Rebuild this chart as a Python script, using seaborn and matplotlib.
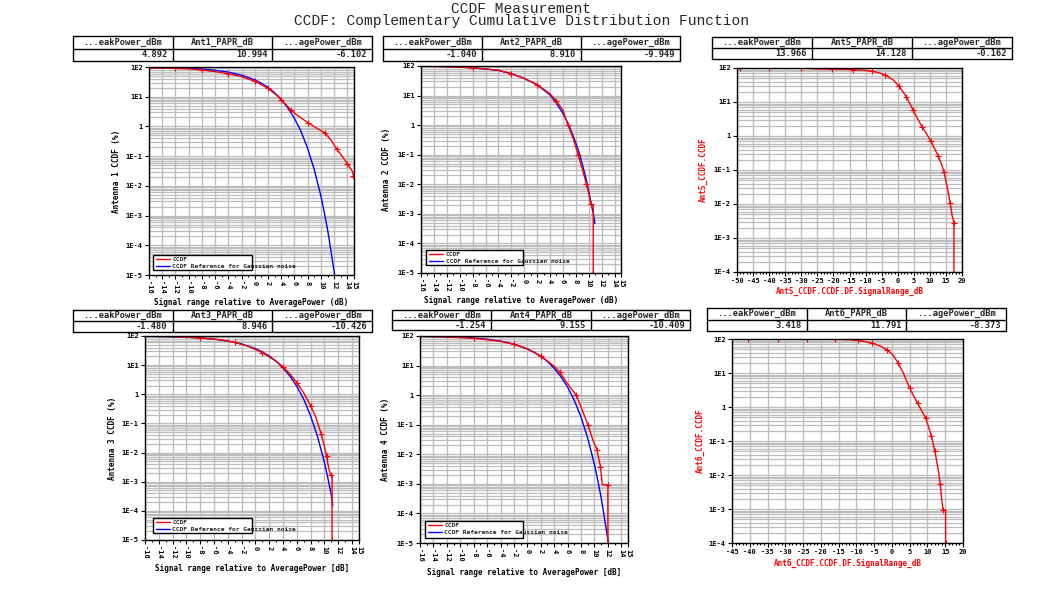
import numpy as np
import pandas as pd
import matplotlib
matplotlib.use("Agg")
import matplotlib.pyplot as plt
import seaborn as sns
from matplotlib.patches import Rectangle
from matplotlib.lines import Line2D
from matplotlib.ticker import MultipleLocator, LogLocator, NullFormatter

# ---------------- data ----------------
title1 = "CCDF Measurement"
title2 = "CCDF: Complementary Cumulative Distribution Function"
xlabel_rel_top = "Signal range relative to AveragePower (dB)"
xlabel_rel_bot = "Signal range relative to AveragePower [dB]"
legend_labels = ["CCDF", "CCDF Reference for Gaussian noise"]

table_headers = {
    1: ["...eakPower_dBm", "Ant1_PAPR_dB", "...agePower_dBm"],
    2: ["...eakPower_dBm", "Ant2_PAPR_dB", "...agePower_dBm"],
    5: ["...eakPower_dBm", "Ant5_PAPR_dB", "...agePower_dBm"],
    3: ["...eakPower_dBm", "Ant3_PAPR_dB", "...agePower_dBm"],
    4: ["...eakPower_dBm", "Ant4_PAPR_dB", "...agePower_dBm"],
    6: ["...eakPower_dBm", "Ant6_PAPR_dB", "...agePower_dBm"],
}
table_values = {
    1: ["4.892", "10.994", "-6.102"],
    2: ["-1.040", "8.910", "-9.949"],
    5: ["13.966", "14.128", "-0.162"],
    3: ["-1.480", "8.946", "-10.426"],
    4: ["-1.254", "9.155", "-10.409"],
    6: ["3.418", "11.791", "-8.373"],
}

# Antenna 1
a1_red_x = [-16, -14, -12, -10, -8, -6, -4, -2, 0, 1, 2, 3, 4, 5, 5.5, 6.5, 8, 9.4, 10.6, 11.6, 12.4, 13.2, 14, 14.8, 14.9]
a1_red_y = [93, 92, 90, 86, 79, 70, 59, 47, 33, 25.5, 19, 12.8, 8.0, 4.6, 3.5, 2.3, 1.35, 0.87, 0.6, 0.33, 0.17, 0.1, 0.055, 0.03, 0.022]
a1_blue_x = [-16, -14, -12, -10, -8, -6, -4, -2, 0, 1, 2, 3, 4, 5, 6, 7, 8, 9, 10, 10.5, 11, 11.5, 12, 12.07]
a1_blue_y = [97.5, 96.1, 93.9, 90.5, 85.3, 77.8, 67.3, 53.3, 36.8, 28.4, 20.6, 13.6, 8.1, 4.2, 1.87, 0.67, 0.18,
             0.035, 0.0045, 0.0013, 0.00034, 0.000068, 0.000013, 0.00001]

# Antenna 2
a2_red_x = [-16, -12, -8, -4, -2, 0, 2, 4, 5, 6, 6.8, 7.6, 8.35, 9.0, 9.65, 10.0, 10.3, 10.7, 10.7]
a2_red_y = [99, 95, 87, 72, 55, 38, 23.5, 11.5, 6.5, 3.2, 1.0, 0.35, 0.1, 0.033, 0.01, 0.005, 0.0021, 0.0019, 0.00001]
a2_blue_x = [-16, -12, -8, -4, -2, 0, 2, 4, 5, 6, 7, 8, 8.5, 9.1, 9.6, 10.06, 10.4, 10.7, 10.95]
a2_blue_y = [99.5, 96, 87, 71, 55, 38, 23, 10.5, 5.5, 2.5, 0.9, 0.25, 0.12, 0.04, 0.015, 0.005, 0.002, 0.00107, 0.00047]

# Antenna 3
a3_red_x = [-16, -12, -8, -5, -3, -1, 1, 3, 4, 5, 6, 7, 8, 8.8, 9.5, 10.0, 10.3, 10.6, 10.9, 11.1, 11.1]
a3_red_y = [99, 95, 86, 74, 60, 44, 27, 13.5, 8.6, 5.0, 2.5, 1.1, 0.4, 0.15, 0.045, 0.016, 0.0075, 0.003, 0.0017, 0.0017, 0.00001]
a3_blue_x = [-16, -14, -12, -10, -8, -6, -4, -2, 0, 1, 2, 3, 4, 5, 6, 7, 8, 9, 10, 10.5, 11, 11.2]
a3_blue_y = [97.5, 96.1, 93.9, 90.5, 85.3, 77.8, 67.3, 53.3, 36.8, 28.4, 20.6, 13.6, 8.1, 4.2, 1.87, 0.67, 0.18,
             0.035, 0.0045, 0.0013, 0.00034, 0.00015]

# Antenna 4
a4_red_x = [-16, -12, -8, -4, -2, 0, 2, 3.8, 4.8, 6.4, 7.3, 8.2, 9.03, 9.77, 10.4, 10.5, 10.9, 11.17, 12.0, 12.0]
a4_red_y = [98, 92, 84, 66, 52, 36.5, 21, 10.3, 6.1, 1.8, 1.0, 0.3, 0.1, 0.03, 0.014, 0.01, 0.0038, 0.00093, 0.00093, 0.00001]
a4_blue_x = a1_blue_x
a4_blue_y = a1_blue_y

# Antenna 5 (signal range, dB)
a5_x = [-49, -44.5, -40, -35, -30, -25.2, -20.5, -16, -13.8, -10.7, -8, -6.0, -4, -1.4, 0.4, 1.5, 2.7, 3.8, 4.8,
        6.2, 7.6, 9, 10.3, 11.5, 12.6, 13.6, 14.4, 15.4, 16.3, 16.9, 17.5, 17.5]
a5_y = [100, 100, 100, 100, 100, 94, 93, 91, 89, 86, 80, 73, 63, 45, 29, 21, 14, 9.0, 5.7,
        3.2, 1.85, 1.15, 0.71, 0.42, 0.26, 0.15, 0.088, 0.032, 0.011, 0.0047, 0.0028, 0.0001]

# Antenna 6 (signal range, dB)
a6_x = [-40.5, -36.5, -32, -28, -24, -20, -16, -12, -9.5, -7.8, -5.5, -3.1, -1.3, 0.2, 1.7, 3.2, 5.0, 6.0, 7.2,
        8.3, 9.5, 10.3, 11.1, 11.6, 12.1, 12.9, 13.6, 14.0, 14.4, 15.1, 15.1]
a6_y = [100, 100, 100, 100, 100, 100, 99, 95, 91, 85, 75, 61, 47, 35, 20, 10, 3.6, 2.2, 1.3,
        0.8, 0.48, 0.26, 0.14, 0.085, 0.05, 0.017, 0.0055, 0.0019, 0.00093, 0.00093, 0.0001]

left_xticks = [-16, -14, -12, -10, -8, -6, -4, -2, 0, 2, 4, 6, 8, 10, 12, 14, 15]
left_xticklabels = ["-16", "-14", "-12", "-10", "-8", "-6", "-4", "-2", "0", "2", "4", "6", "8", "10", "12", "14", "15"]
left_yticks = [1e2, 1e1, 1, 1e-1, 1e-2, 1e-3, 1e-4, 1e-5]
left_yticklabels = ["1E2", "1E1", "1", "1E-1", "1E-2", "1E-3", "1E-4", "1E-5"]
right_yticks = [1e2, 1e1, 1, 1e-1, 1e-2, 1e-3, 1e-4]
right_yticklabels = ["1E2", "1E1", "1", "1E-1", "1E-2", "1E-3", "1E-4"]
a5_xticks = [-50, -45, -40, -35, -30, -25, -20, -15, -10, -5, 0, 5, 10, 15, 20]
a6_xticks = [-45, -40, -35, -30, -25, -20, -15, -10, -5, 0, 5, 10, 15, 20]

# ---------------- style ----------------
sns.set_theme(style="white")
plt.rcParams['font.family'] = ['DejaVu Sans Mono', 'DejaVu Sans']
plt.rcParams['axes.unicode_minus'] = False

RED = "#ff0000"
BLUE = "#0000ff"
GRID = "#bdbdbd"
W, H = 1042, 613
fig = plt.figure(figsize=(W / 100, H / 100), dpi=100)
fig.patch.set_facecolor("white")


def rect(x0, y0, x1, y1):
    return [x0 / W, 1 - y1 / H, (x1 - x0) / W, (y1 - y0) / H]


def draw_table(box, headers, values):
    tax = fig.add_axes(rect(*box))
    tax.set_xlim(0, 3)
    tax.set_ylim(0, 2)
    tax.axis("off")
    for i in range(4):
        tax.plot([i, i], [0, 2], color="black", lw=1.0, clip_on=False)
    for j in range(3):
        tax.plot([0, 3], [j, j], color="black", lw=1.0, clip_on=False)
    for i, (h, v) in enumerate(zip(headers, values)):
        tax.text(i + 0.5, 1.5, h, ha="center", va="center", fontsize=6.3, fontweight="bold")
        tax.text(i + 0.95, 0.5, v, ha="right", va="center", fontsize=6.3, fontweight="bold")


def line(ax, x, y, color, markers=False):
    df = pd.DataFrame({"x": x, "y": y})
    kw = dict(marker="+", markersize=4, markeredgewidth=0.8, markevery=2,
              markeredgecolor=color, markerfacecolor=color) if markers else {}
    sns.lineplot(data=df, x="x", y="y", ax=ax, color=color, lw=1.0, estimator=None, sort=False,
                 legend=False, **kw)


def style_axes(ax, ylim, yticks, yticklabels):
    ax.set_yscale("log")
    ax.set_ylim(*ylim)
    ax.set_yticks(yticks)
    ax.set_yticklabels(yticklabels)
    ax.yaxis.set_minor_locator(LogLocator(base=10, subs=np.arange(2, 10), numticks=30))
    ax.yaxis.set_minor_formatter(NullFormatter())
    ax.set_axisbelow(True)
    ax.grid(True, which="major", axis="x", color=GRID, lw=1.0)
    ax.grid(True, which="both", axis="y", color=GRID, lw=0.9)
    for s in ax.spines.values():
        s.set_color("black")
        s.set_linewidth(1.0)
    ax.tick_params(which="both", direction="out", colors="black", bottom=True, left=True,
                   labelsize=5, width=0.8, pad=1.5)
    ax.tick_params(which="major", length=3)
    ax.tick_params(which="minor", length=1.5)
    ax.tick_params(axis="y", which="minor", left=False)
    for lab in ax.get_xticklabels() + ax.get_yticklabels():
        lab.set_fontweight("bold")


def legend_box(ax, box):
    x0, y0, x1, y1 = box
    r = Rectangle((x0 / W, 1 - y1 / H), (x1 - x0) / W, (y1 - y0) / H, transform=fig.transFigure,
                  facecolor="white", edgecolor="black", lw=1.0, zorder=4)
    ax.add_patch(r)
    handles = [Line2D([], [], color=RED, lw=1.0), Line2D([], [], color=BLUE, lw=1.0)]
    leg = ax.legend(handles, legend_labels, loc="upper left", bbox_to_anchor=((x0 + 2) / W, 1 - (y0 + 1) / H),
                    bbox_transform=fig.transFigure, frameon=False, prop={"size": 4.5, "weight": "bold"},
                    handlelength=2.3, borderpad=0.1, labelspacing=0.25, handletextpad=0.4, borderaxespad=0)
    leg.set_zorder(5)


# ---------------- left/middle panels ----------------
left_panels = [
    (1, (149, 67, 354, 275), (73, 36, 372, 61), a1_red_x, a1_red_y, a1_blue_x, a1_blue_y,
     "Antenna 1 CCDF (%)", xlabel_rel_top, (153, 255, 252, 270), -0.139, -0.11),
    (2, (421, 66, 621, 273), (383, 36, 680, 61), a2_red_x, a2_red_y, a2_blue_x, a2_blue_y,
     "Antenna 2 CCDF (%)", xlabel_rel_top, (426, 250, 523, 265), -0.1475, -0.111),
    (3, (145, 336, 359, 540), (73, 310, 372, 332), a3_red_x, a3_red_y, a3_blue_x, a3_blue_y,
     "Antenna 3 CCDF (%)", xlabel_rel_bot, (153, 518, 252, 533), -0.133, -0.118),
    (4, (420, 336, 628, 543), (392, 310, 690, 330), a4_red_x, a4_red_y, a4_blue_x, a4_blue_y,
     "Antenna 4 CCDF (%)", xlabel_rel_bot, (425, 521, 523, 538), -0.142, -0.121),
]

for (n, abox, tbox, rx, ry, bx, by, ylab, xlab, lbox, ylc, xlc) in left_panels:
    ax = fig.add_axes(rect(*abox))
    line(ax, bx, by, BLUE)
    line(ax, rx, ry, RED, markers=True)
    ax.set_xlim(-16, 15)
    ax.set_xticks(left_xticks)
    ax.set_xticklabels(left_xticklabels)
    ax.xaxis.set_minor_locator(MultipleLocator(1))
    style_axes(ax, (1e-5, 100), left_yticks, left_yticklabels)
    ax.tick_params(axis="x", labelrotation=-90)
    ax.set_ylabel(ylab, fontsize=5.5, fontweight="bold", color="black")
    ax.set_xlabel(xlab, fontsize=5.5, fontweight="bold", color="black")
    ax.yaxis.set_label_coords(ylc, 0.5)
    ax.xaxis.set_label_coords(0.5, xlc)
    legend_box(ax, lbox)
    draw_table(tbox, table_headers[n], table_values[n])

# ---------------- right panels ----------------
right_panels = [
    (5, (737, 68, 962, 272), (712, 37, 1012, 59), a5_x, a5_y, (-50, 20), a5_xticks,
     "Ant5_CCDF.CCDF", "Ant5_CCDF.CCDF.DF.SignalRange_dB", -0.128, -0.074),
    (6, (732, 339, 963, 543), (707, 308, 1006, 331), a6_x, a6_y, (-45, 20), a6_xticks,
     "Ant6_CCDF.CCDF", "Ant6_CCDF.CCDF.DF.SignalRange_dB", -0.118, -0.078),
]
for (n, abox, tbox, x, y, xl, xt, ylab, xlab, ylc, xlc) in right_panels:
    ax = fig.add_axes(rect(*abox))
    line(ax, x, y, RED, markers=True)
    ax.set_xlim(*xl)
    ax.set_xticks(xt)
    ax.set_xticklabels([str(v) for v in xt])
    ax.xaxis.set_minor_locator(MultipleLocator(1))
    style_axes(ax, (1e-4, 100), right_yticks, right_yticklabels)
    ax.set_ylabel(ylab, fontsize=5.5, fontweight="bold", color=RED)
    ax.set_xlabel(xlab, fontsize=5.5, fontweight="bold", color=RED)
    ax.yaxis.set_label_coords(ylc, 0.5)
    ax.xaxis.set_label_coords(0.5, xlc)
    draw_table(tbox, table_headers[n], table_values[n])

# ---------------- titles ----------------
fig.text(0.5, 1 - 9 / H, title1, ha="center", va="center", fontsize=10.5, family="Liberation Mono")
fig.text(0.5, 1 - 21 / H, title2, ha="center", va="center", fontsize=10.5, family="Liberation Mono")

fig.savefig("out.png", dpi=100, facecolor="white")
